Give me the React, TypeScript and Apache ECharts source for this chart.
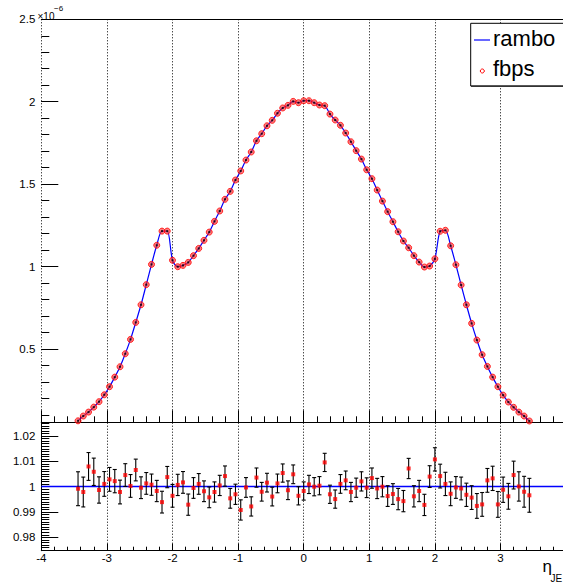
import React, { useEffect, useRef } from "react";
import * as echarts from "echarts";

// Bin layout (bin centres, eta_JET)
const binStart = -3.44;
const binWidth = 0.08;

// fbps / rambo distribution (units of 1e-6)
const fbps = [
  0.064, 0.093, 0.117, 0.147, 0.180, 0.222, 0.271, 0.329, 0.392, 0.471,
  0.558, 0.661, 0.768, 0.890, 1.013, 1.129, 1.215, 1.215, 1.038, 0.999,
  1.007, 1.025, 1.066, 1.110, 1.159, 1.209, 1.274, 1.337, 1.408, 1.456,
  1.525, 1.580, 1.646, 1.695, 1.763, 1.806, 1.854, 1.887, 1.930, 1.962,
  1.978, 2.002, 1.994, 2.006, 2.006, 1.994, 1.980, 1.976, 1.925, 1.889,
  1.857, 1.810, 1.757, 1.703, 1.652, 1.587, 1.533, 1.464, 1.397, 1.333,
  1.272, 1.211, 1.155, 1.114, 1.066, 1.027, 0.997, 1.003, 1.047, 1.214,
  1.220, 1.126, 1.011, 0.888, 0.768, 0.655, 0.554, 0.465, 0.394, 0.329,
  0.271, 0.220, 0.178, 0.146, 0.117, 0.093, 0.063,
];

// ratio fbps / rambo
const ratio = [
  0.9992, 0.9979, 1.0080, 1.0059, 0.9987, 1.0011, 1.0029, 1.0022, 0.9979, 1.0046,
  1.0003, 1.0066, 0.9996, 1.0013, 1.0008, 0.9983, 0.9939, 1.0038, 0.9964, 1.0007,
  1.0017, 0.9929, 0.9995, 1.0011, 0.9982, 0.9958, 0.9979, 1.0005, 1.0042, 0.9954,
  0.9970, 0.9908, 0.9997, 0.9922, 1.0036, 0.9980, 1.0016, 0.9961, 1.0013, 1.0054,
  0.9986, 1.0049, 0.9964, 0.9983, 1.0009, 1.0000, 1.0004, 1.0096, 0.9970, 0.9951,
  1.0011, 1.0025, 0.9979, 0.9996, 1.0021, 0.9996, 1.0034, 0.9993, 1.0000, 0.9963,
  0.9971, 0.9951, 0.9943, 1.0072, 0.9962, 0.9983, 0.9928, 1.0040, 1.0108, 1.0042,
  1.0011, 0.9972, 0.9997, 0.9993, 0.9968, 0.9957, 0.9924, 0.9930, 1.0025, 1.0033,
  0.9930, 0.9988, 0.9962, 1.0046, 1.0001, 0.9980, 0.9966,
];

const ratioErr = [
  0.0067, 0.0059, 0.0055, 0.0054, 0.0052, 0.0049, 0.0047, 0.0046, 0.0047, 0.0045,
  0.0045, 0.0043, 0.0043, 0.0043, 0.0042, 0.0042, 0.0043, 0.0042, 0.0045, 0.0042,
  0.0043, 0.0042, 0.0041, 0.0041, 0.0041, 0.0041, 0.0040, 0.0040, 0.0040, 0.0039,
  0.0040, 0.0040, 0.0039, 0.0038, 0.0038, 0.0037, 0.0037, 0.0037, 0.0037, 0.0036,
  0.0037, 0.0037, 0.0036, 0.0036, 0.0036, 0.0036, 0.0036, 0.0036, 0.0036, 0.0036,
  0.0037, 0.0037, 0.0038, 0.0038, 0.0038, 0.0039, 0.0040, 0.0040, 0.0040, 0.0041,
  0.0041, 0.0042, 0.0042, 0.0040, 0.0042, 0.0042, 0.0042, 0.0043, 0.0046, 0.0047,
  0.0046, 0.0047, 0.0043, 0.0045, 0.0046, 0.0047, 0.0049, 0.0047, 0.0047, 0.0048,
  0.0051, 0.0050, 0.0051, 0.0055, 0.0058, 0.0061, 0.0067,
];

// tick labels
const xTicks = [-4, -3, -2, -1, 0, 1, 2, 3];
const yTicksTop = [0.5, 1, 1.5, 2, 2.5];
const yTicksRatio = [0.98, 0.99, 1, 1.01, 1.02];
const legendNames = ["rambo", "fbps"];
const xTitle = "η";
const xTitleSub = "JE";
const yExponent = ["×10", "−6"];

const FONT = "'Liberation Sans', Arial, Helvetica, sans-serif";

export default function App() {
  const ref = useRef<HTMLDivElement>(null);

  useEffect(() => {
    document.body.style.margin = "0";
    if (!ref.current) return;
    const chart = echarts.init(ref.current, undefined, { renderer: "svg" });

    const xs = fbps.map((_, i) => +(binStart + i * binWidth).toFixed(2));
    const topData = fbps.map((v, i) => [xs[i], v]);
    const ratioData = ratio.map((v, i) => [xs[i], v, ratioErr[i]]);

    const minorTop: number[] = [];
    for (let k = 1; k <= 25; k++) minorTop.push(+(k * 0.1).toFixed(2));
    const minorRatio: number[] = [];
    for (let k = 975; k <= 1025; k++) minorRatio.push(k / 1000);

    const black = "#000";
    const dotted = { show: true, lineStyle: { color: black, width: 1, type: [1, 2] as any } };

    const grid0 = { left: 41.3, top: 19.3, right: -3.1, height: 403, containLabel: false, outerBoundsMode: "none" };
    const grid1 = { left: 41.3, top: 422.7, right: -3.1, height: 128, containLabel: false, outerBoundsMode: "none" };

    const option: any = {
      animation: false,
      backgroundColor: "#fff",
      textStyle: { fontFamily: FONT },
      grid: [grid0, grid1],
      xAxis: [
        {
          gridIndex: 0, type: "value", position: "bottom", min: -4, max: 4, interval: 1,
          axisLine: { show: true, onZero: false, lineStyle: { color: black, width: 1 } },
          axisTick: { show: true, inside: true, length: 12, lineStyle: { color: black } },
          minorTick: { show: true, splitNumber: 5, length: 6, lineStyle: { color: black } },
          axisLabel: { show: false },
          splitLine: dotted,
        },
        {
          gridIndex: 0, type: "value", position: "top", min: -4, max: 4,
          axisLine: { show: true, onZero: false, lineStyle: { color: black, width: 1 } },
          axisTick: { show: false }, axisLabel: { show: false }, splitLine: { show: false },
        },
        {
          gridIndex: 1, type: "value", position: "bottom", min: -4, max: 4, interval: 1,
          axisLine: { show: true, onZero: false, lineStyle: { color: black, width: 1 } },
          axisTick: { show: true, inside: true, length: 7, lineStyle: { color: black } },
          minorTick: { show: true, splitNumber: 5, length: 4, lineStyle: { color: black } },
          axisLabel: {
            show: true, customValues: xTicks, color: black, fontSize: 11.5, margin: 1,
            fontFamily: FONT,
          },
          splitLine: dotted,
        },
        {
          gridIndex: 1, type: "value", position: "top", min: -4, max: 4,
          axisLine: { show: true, onZero: false, lineStyle: { color: black, width: 1 } },
          axisTick: { show: false }, axisLabel: { show: false }, splitLine: { show: false },
        },
      ],
      yAxis: [
        {
          gridIndex: 0, type: "value", position: "left", min: 0.055, max: 2.5,
          axisLine: { show: false, onZero: false },
          axisTick: { show: true, inside: true, length: 17, customValues: yTicksTop, lineStyle: { color: black } },
          axisLabel: { show: true, customValues: yTicksTop, color: black, fontSize: 11.5, margin: 6, fontFamily: FONT },
          splitLine: { show: false },
        },
        {
          gridIndex: 0, type: "value", position: "left", min: 0.055, max: 2.5,
          axisLine: { show: false, onZero: false },
          axisTick: { show: true, inside: true, length: 8, customValues: minorTop, lineStyle: { color: black } },
          axisLabel: { show: false },
          splitLine: { show: false },
        },
        {
          gridIndex: 1, type: "value", position: "left", min: 0.9747, max: 1.0253,
          axisLine: { show: true, onZero: false, lineStyle: { color: black, width: 1 } },
          axisTick: { show: true, inside: true, length: 17, customValues: yTicksRatio, lineStyle: { color: black } },
          axisLabel: { show: true, customValues: yTicksRatio, color: black, fontSize: 11.5, margin: 6, fontFamily: FONT },
          splitLine: { show: false },
        },
        {
          gridIndex: 1, type: "value", position: "left", min: 0.9747, max: 1.0253,
          axisLine: { show: false, onZero: false },
          axisTick: { show: true, inside: true, length: 8, customValues: minorRatio, lineStyle: { color: black } },
          axisLabel: { show: false },
          splitLine: { show: false },
        },
      ],
      series: [
        {
          name: legendNames[0], type: "line", xAxisIndex: 0, yAxisIndex: 0,
          data: topData, smooth: 0.3, showSymbol: false, clip: true,
          lineStyle: { color: "#0000ff", width: 1.2 }, z: 2,
        },
        {
          name: legendNames[1], type: "scatter", xAxisIndex: 0, yAxisIndex: 0,
          data: topData, symbol: "circle", symbolSize: 6, clip: true,
          itemStyle: { color: "rgba(255,40,40,0.75)", borderColor: "#ff0000", borderWidth: 1 }, z: 3,
        },
        {
          type: "scatter", xAxisIndex: 0, yAxisIndex: 0, data: topData,
          symbol: "rect", symbolSize: 2, clip: true, itemStyle: { color: "#000" }, z: 4,
        },
        {
          type: "custom", xAxisIndex: 2, yAxisIndex: 2, data: ratioData,
          encode: { x: 0, y: 1 }, z: 3,
          renderItem: (params: any, api: any) => {
            const x = api.value(0), y = api.value(1), e = api.value(2);
            const top = api.coord([x, y + e]);
            const bot = api.coord([x, y - e]);
            const cap = 2;
            const st = { stroke: "#000", lineWidth: 1.1 };
            return {
              type: "group",
              children: [
                { type: "line", shape: { x1: top[0], y1: top[1], x2: bot[0], y2: bot[1] }, style: st },
                { type: "line", shape: { x1: top[0] - cap, y1: top[1], x2: top[0] + cap, y2: top[1] }, style: st },
                { type: "line", shape: { x1: bot[0] - cap, y1: bot[1], x2: bot[0] + cap, y2: bot[1] }, style: st },
              ],
            };
          },
        },
        {
          type: "scatter", xAxisIndex: 2, yAxisIndex: 2,
          data: ratioData.map((d) => [d[0], d[1]]),
          symbol: "rect", symbolSize: 4, itemStyle: { color: "#ff0000" }, z: 4,
          markLine: {
            silent: true, symbol: "none", animation: false,
            label: { show: false },
            lineStyle: { color: "#0000ff", width: 1.4, type: "solid" },
            data: [{ yAxis: 1 }],
            z: 2,
          },
        },
      ],
      graphic: [
        {
          type: "rect", z: 100, shape: { x: 470.7, y: 23.3, width: 120, height: 62.7 },
          style: { fill: "#fff", stroke: "#000", lineWidth: 1 },
        },
        {
          type: "line", z: 101, shape: { x1: 471, y1: 86.3, x2: 563, y2: 86.3 },
          style: { stroke: "#333", lineWidth: 1.5 },
        },
        {
          type: "line", z: 101, shape: { x1: 474, y1: 40, x2: 490, y2: 40 },
          style: { stroke: "#0000ff", lineWidth: 1.2 },
        },
        {
          type: "circle", z: 101, shape: { cx: 482.3, cy: 71, r: 2 },
          style: { fill: "#fff", stroke: "#ff0000", lineWidth: 1 },
        },
        {
          type: "text", z: 101, x: 493, y: 38.4,
          style: { text: legendNames[0], fontSize: 22, fontFamily: FONT, fill: "#000", align: "left", verticalAlign: "middle" },
        },
        {
          type: "text", z: 101, x: 493, y: 68.4,
          style: { text: legendNames[1], fontSize: 22, fontFamily: FONT, fill: "#000", align: "left", verticalAlign: "middle" },
        },
        {
          type: "text", z: 101, x: 37.5, y: 16,
          style: { text: yExponent[0], fontSize: 10, fontFamily: FONT, fill: "#000", align: "left", verticalAlign: "middle" },
        },
        {
          type: "text", z: 101, x: 54, y: 8,
          style: { text: yExponent[1], fontSize: 8, fontFamily: FONT, fill: "#000", align: "left", verticalAlign: "middle" },
        },
        {
          type: "text", z: 101, x: 542.5, y: 566.5,
          style: { text: xTitle, fontSize: 17, fontFamily: FONT, fill: "#000", align: "left", verticalAlign: "middle" },
        },
        {
          type: "text", z: 101, x: 550.5, y: 578,
          style: { text: xTitleSub, fontSize: 10, fontFamily: FONT, fill: "#000", align: "left", verticalAlign: "middle" },
        },
      ],
    };

    chart.setOption(option);
    return () => chart.dispose();
  }, []);

  return <div ref={ref} style={{ width: 563, height: 584 }} />;
}
